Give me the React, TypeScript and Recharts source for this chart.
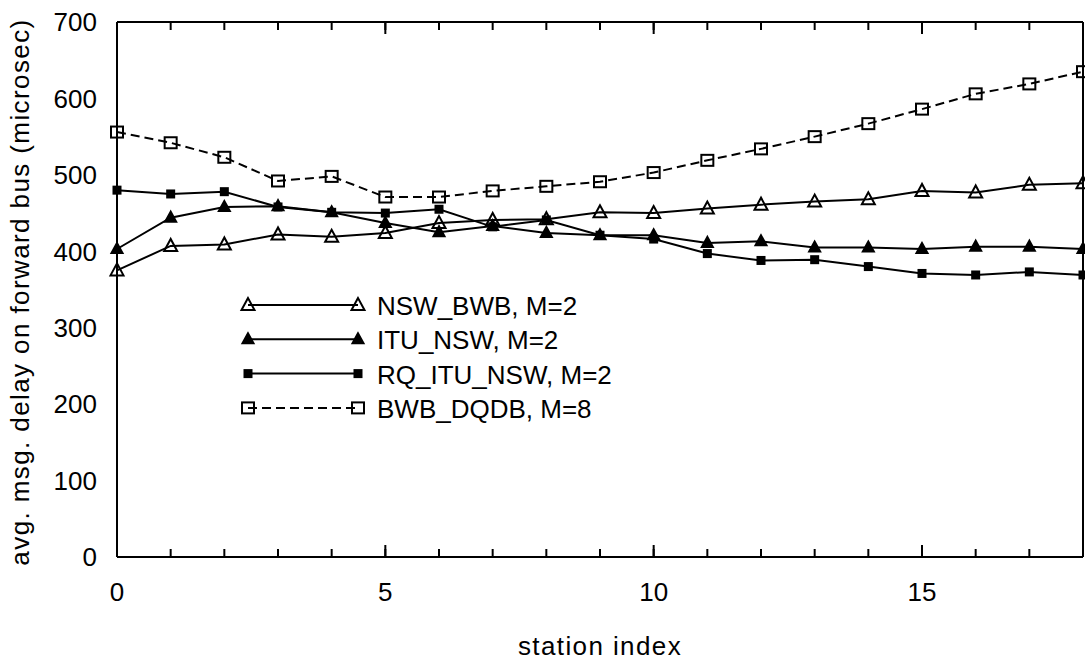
import { LineChart, Line, XAxis, YAxis, Legend, Label } from "recharts";

const STATIONS = [0, 1, 2, 3, 4, 5, 6, 7, 8, 9, 10, 11, 12, 13, 14, 15, 16, 17, 18];
const NSW_BWB = [375, 407, 409, 422, 419, 424, 437, 441, 442, 451, 450, 456, 461, 465, 468, 479, 477, 487, 489];
const ITU_NSW = [403, 444, 458, 459, 451, 437, 425, 433, 424, 421, 421, 411, 413, 405, 405, 403, 406, 406, 403];
const RQ_ITU_NSW = [480, 475, 478, 458, 451, 450, 455, 432, 441, 421, 416, 397, 388, 389, 380, 371, 369, 373, 369];
const BWB_DQDB = [556, 542, 523, 492, 498, 471, 471, 479, 485, 491, 503, 519, 534, 550, 567, 586, 606, 619, 635];

const X_TICKS = [0, 5, 10, 15];
const Y_TICKS = [0, 100, 200, 300, 400, 500, 600, 700];
const Y_MINOR = [0, 50, 100, 150, 200, 250, 300, 350, 400, 450, 500, 550, 600, 650, 700];

const SERIES = [
  { key: "nswBwb", name: "NSW_BWB, M=2", marker: "openTri", dashed: false },
  { key: "ituNsw", name: "ITU_NSW, M=2", marker: "fillTri", dashed: false },
  { key: "rqItuNsw", name: "RQ_ITU_NSW, M=2", marker: "fillSq", dashed: false },
  { key: "bwbDqdb", name: "BWB_DQDB, M=8", marker: "openSq", dashed: true },
];

const data = STATIONS.map((s, i) => ({
  station: s,
  nswBwb: NSW_BWB[i],
  ituNsw: ITU_NSW[i],
  rqItuNsw: RQ_ITU_NSW[i],
  bwbDqdb: BWB_DQDB[i],
}));

const FONT = "'Liberation Sans', Arial, sans-serif";
const DASH = "9 5";

function Marker({ kind, cx, cy }: { kind: string; cx: number; cy: number }) {
  if (kind === "openTri" || kind === "fillTri") {
    const fill = kind === "fillTri" ? "#000" : "none";
    const r = kind === "fillTri" ? 5.5 : 6.5;
    return (
      <polygon
        points={`${cx},${cy - r - 0.5} ${cx - r},${cy + r - 1.5} ${cx + r},${cy + r - 1.5}`}
        fill={fill}
        stroke="#000"
        strokeWidth={2}
      />
    );
  }
  if (kind === "fillSq") {
    return <rect x={cx - 4.5} y={cy - 4.5} width={9} height={9} fill="#000" />;
  }
  return <rect x={cx - 6} y={cy - 5.5} width={12} height={11} fill="none" stroke="#000" strokeWidth={2} />;
}

function LegendBox() {
  return (
    <svg width={420} height={150} style={{ display: "block" }}>
      {SERIES.map((s, i) => {
        const y = 20 + i * 34.3;
        return (
          <g key={s.key}>
            <line x1={18} x2={128} y1={y} y2={y} stroke="#000" strokeWidth={2} strokeDasharray={s.dashed ? DASH : undefined} />
            <Marker kind={s.marker} cx={18} cy={y} />
            <Marker kind={s.marker} cx={128} cy={y} />
            <text x={147} y={y + 10} fontFamily={FONT} fontSize={26} fill="#000">
              {s.name}
            </text>
          </g>
        );
      })}
    </svg>
  );
}

const noTick = () => <g />;

export default function App() {
  const tickStyle = { fontSize: 26, fill: "#000", fontFamily: FONT };
  const axisLine = { stroke: "#000", strokeWidth: 2 };
  const tickLine = { stroke: "#000", strokeWidth: 2 };
  return (
    <div style={{ position: "absolute", left: 0, top: 0, background: "#fff" }}>
      <LineChart width={1085} height={664} data={data} margin={{ top: 22, right: 2, bottom: 0, left: 0 }}>
        <XAxis
          xAxisId="x"
          dataKey="station"
          type="number"
          domain={[0, 18]}
          ticks={X_TICKS}
          height={107}
          tickLine={false}
          tickSize={0}
          tickMargin={26}
          axisLine={axisLine}
          tick={tickStyle}
        >
          <Label
            content={() => (
              <text x={600} y={655} textAnchor="middle" fontFamily={FONT} fontSize={26} letterSpacing={1.4} fill="#000">
                station index
              </text>
            )}
          />
        </XAxis>
        <XAxis xAxisId="xbMajor" type="number" domain={[0, 18]} ticks={X_TICKS} orientation="bottom" mirror height={1} tickSize={12} tickLine={tickLine} axisLine={false} tick={noTick} />
        <XAxis xAxisId="xbMinor" type="number" domain={[0, 18]} ticks={STATIONS} orientation="bottom" mirror height={1} tickSize={7} tickLine={tickLine} axisLine={false} tick={noTick} />
        <XAxis xAxisId="xtMajor" type="number" domain={[0, 18]} ticks={X_TICKS} orientation="top" mirror height={1} tickSize={12} tickLine={tickLine} axisLine={axisLine} tick={noTick} />
        <XAxis xAxisId="xtMinor" type="number" domain={[0, 18]} ticks={STATIONS} orientation="top" mirror height={1} tickSize={7} tickLine={tickLine} axisLine={false} tick={noTick} />
        <YAxis
          yAxisId="y"
          type="number"
          domain={[0, 700]}
          ticks={Y_TICKS}
          width={117}
          tickLine={false}
          tickSize={0}
          tickMargin={20}
          axisLine={axisLine}
          tick={tickStyle}
        >
          <Label
            content={() => (
              <text
                x={29}
                y={292}
                transform="rotate(-90 29 292)"
                textAnchor="middle"
                fontFamily={FONT}
                fontSize={26}
                letterSpacing={1.4}
                fill="#000"
              >
                avg. msg. delay on forward bus (microsec)
              </text>
            )}
          />
        </YAxis>
        <YAxis yAxisId="ylMajor" type="number" domain={[0, 700]} ticks={Y_TICKS} orientation="left" mirror width={1} tickSize={12} tickLine={tickLine} axisLine={false} tick={noTick} />
        <YAxis yAxisId="ylMinor" type="number" domain={[0, 700]} ticks={Y_MINOR} orientation="left" mirror width={1} tickSize={7} tickLine={tickLine} axisLine={false} tick={noTick} />
        <YAxis yAxisId="yrMajor" type="number" domain={[0, 700]} ticks={Y_TICKS} orientation="right" mirror width={1} tickSize={12} tickLine={tickLine} axisLine={axisLine} tick={noTick} />
        <YAxis yAxisId="yrMinor" type="number" domain={[0, 700]} ticks={Y_MINOR} orientation="right" mirror width={1} tickSize={7} tickLine={tickLine} axisLine={false} tick={noTick} />
        <Legend
          layout="vertical"
          align="center"
          verticalAlign="middle"
          wrapperStyle={{ left: 230, top: 285, width: 420 }}
          content={() => <LegendBox />}
        />
        {SERIES.map((s) => (
          <Line
            key={s.key}
            xAxisId="x"
            yAxisId="y"
            type="linear"
            dataKey={s.key}
            name={s.name}
            stroke="#000"
            strokeWidth={2}
            strokeDasharray={s.dashed ? DASH : undefined}
            dot={(p: any) => <Marker key={`${s.key}-${p.index}`} kind={s.marker} cx={p.cx} cy={p.cy} />}
            activeDot={false}
            isAnimationActive={false}
          />
        ))}
      </LineChart>
    </div>
  );
}
